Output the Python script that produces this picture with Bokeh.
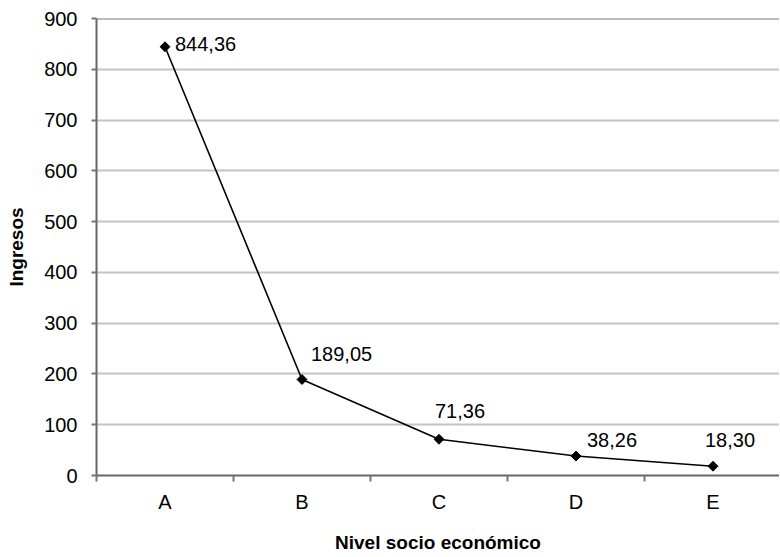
from bokeh.plotting import figure
from bokeh.models import ColumnDataSource, FixedTicker, Span, Range1d
from bokeh.embed import file_html
from bokeh.resources import INLINE
from bokeh.core.properties import value

categories = ["A", "B", "C", "D", "E"]
ingresos = [844.36, 189.05, 71.36, 38.26, 18.30]
y_ticks = [0, 100, 200, 300, 400, 500, 600, 700, 800, 900]

labels = [f"{v:.2f}".replace(".", ",") for v in ingresos]
xs = [i + 0.5 for i in range(len(categories))]
# label offsets in screen pixels (style)
x_offs = [10, 9, -4, 11, -8]
y_offs = [-3, -26, -28, -16, -26]

FONT = "Liberation Sans"

W, H = 779, 556
LEFT, TOP, BOTTOM = 96, 18, 81

p = figure(width=W, height=H, output_backend="svg", toolbar_location=None,
           x_range=Range1d(0, (W - LEFT) / 137), y_range=Range1d(0, 900),
           min_border_left=LEFT, min_border_right=0, min_border_top=TOP,
           min_border_bottom=BOTTOM)
p.outline_line_color = None
p.background_fill_color = "white"

src = ColumnDataSource(dict(x=xs, y=ingresos, lab=labels, xo=x_offs, yo=y_offs))

p.line("x", "y", source=src, line_color="black", line_width=1.6)
p.scatter("x", "y", source=src, marker="square", size=7, angle=0.785398,
          fill_color="black", line_color="black")
p.text("x", "y", text="lab", source=src, x_offset="xo", y_offset="yo",
       text_font=value(FONT), text_font_size="20px", text_align="left",
       text_baseline="middle", text_color="black")

# axes
p.xaxis.ticker = FixedTicker(ticks=xs, minor_ticks=[0, 1, 2, 3, 4, 5])
p.xaxis.major_label_overrides = {x: c for x, c in zip(xs, categories)}
p.xaxis.major_tick_out = 0
p.xaxis.major_tick_in = 0
p.xaxis.minor_tick_out = 6
p.xaxis.minor_tick_in = 0
p.xaxis.minor_tick_line_color = "#777777"
p.xaxis.minor_tick_line_width = 2
p.xaxis.axis_line_color = "#666666"
p.xaxis.axis_line_width = 2
p.xaxis.major_label_standoff = 9
p.xaxis.axis_label = "Nivel socio económico"
p.xaxis.axis_label_standoff = 16

p.yaxis.ticker = FixedTicker(ticks=y_ticks, minor_ticks=[])
p.yaxis.major_tick_out = 5
p.yaxis.major_tick_in = 0
p.yaxis.major_tick_line_color = "#777777"
p.yaxis.major_tick_line_width = 2
p.yaxis.axis_line_color = "#666666"
p.yaxis.axis_line_width = 2
p.yaxis.major_label_standoff = 14
p.yaxis.axis_label = "Ingresos"
p.yaxis.axis_label_standoff = 14

for ax in (p.xaxis[0], p.yaxis[0]):
    ax.major_label_text_font = FONT
    ax.major_label_text_font_size = "20px"
    ax.major_label_text_color = "black"
    ax.axis_label_text_font = FONT
    ax.axis_label_text_font_size = "19px"
    ax.axis_label_text_font_style = "bold"
    ax.axis_label_text_color = "black"

p.xgrid.grid_line_color = None
p.ygrid.ticker = FixedTicker(ticks=y_ticks[1:-1])
p.ygrid.grid_line_color = "#c4c4c4"
p.ygrid.grid_line_width = 2

p.add_layout(Span(location=900, dimension="width", line_color="#7a7a7a", line_width=2))

open("out.html", "w").write(file_html(p, INLINE))
